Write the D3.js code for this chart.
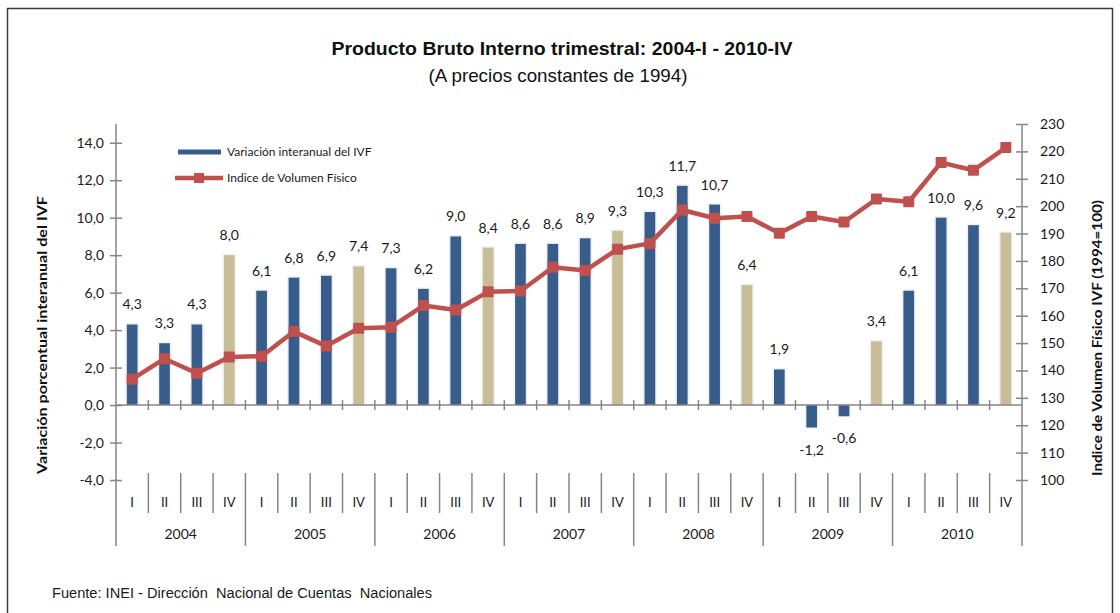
<!DOCTYPE html>
<html>
<head>
<meta charset="utf-8">
<script src="https://cdn.jsdelivr.net/npm/d3@7"></script>
<style>
  body { margin: 0; background: #fff; }
  svg { display: block; }
</style>
</head>
<body>
<div id="container"></div>
<script>
const width = 1120;
const height = 613;

// datos
const years = ["2004", "2005", "2006", "2007", "2008", "2009", "2010"];
const quarters = ["I", "II", "III", "IV"];
const variacion = [
  4.3, 3.3, 4.3, 8.0,
  6.1, 6.8, 6.9, 7.4,
  7.3, 6.2, 9.0, 8.4,
  8.6, 8.6, 8.9, 9.3,
  10.3, 11.7, 10.7, 6.4,
  1.9, -1.2, -0.6, 3.4,
  6.1, 10.0, 9.6, 9.2
];
const indice = [
  136.8, 144.3, 139.0, 144.9,
  145.2, 154.2, 148.9, 155.4,
  155.8, 163.7, 162.1, 168.7,
  169.0, 177.7, 176.5, 184.3,
  186.4, 198.6, 195.6, 196.2,
  190.1, 196.2, 194.2, 202.6,
  201.6, 215.9, 213.1, 221.4
];
const leftTicks = [-4, -2, 0, 2, 4, 6, 8, 10, 12, 14];
const rightTicks = [100, 110, 120, 130, 140, 150, 160, 170, 180, 190, 200, 210, 220, 230];

const keys = [];
years.forEach(y => quarters.forEach(q => keys.push(y + "-" + q)));

const plotLeft = 116;
const plotRight = 1022;
const plotTop = 124;
const plotBottom = 480;
const catBottom = 546;

const axisColor = "#868686";
const blue = "#385D8A";
const tan = "#C7BD96";
const red = "#C0504D";
const labelFont = "Lato, 'Open Sans', sans-serif";
const narrowFont = "'Liberation Sans', Arial, sans-serif";

const coma = d => d3.format(".1f")(d).replace(".", ",").replace("\u2212", "-");

const x = d3.scaleBand().domain(keys).range([plotLeft, plotRight]).paddingInner(0).paddingOuter(0);
const yL = d3.scaleLinear().domain([-4, 15]).range([plotBottom, plotTop]);
const yR = d3.scaleLinear().domain([100, 230]).range([plotBottom, plotTop]);
const barW = x.step() * 0.33;

const svg = d3.create("svg").attr("width", width).attr("height", height);

// marco
svg.append("rect")
  .attr("x", 7.5).attr("y", 8.5)
  .attr("width", 1105).attr("height", 640)
  .attr("fill", "none").attr("stroke", "#3a3a3a").attr("stroke-width", 1.5);

// titulos
svg.append("text")
  .attr("x", 562).attr("y", 55)
  .attr("text-anchor", "middle")
  .attr("font-family", narrowFont).attr("font-weight", "bold").attr("font-size", 19)
  .attr("textLength", 461).attr("lengthAdjust", "spacingAndGlyphs")
  .attr("fill", "#111")
  .text("Producto Bruto Interno trimestral: 2004-I - 2010-IV");
svg.append("text")
  .attr("x", 558).attr("y", 82)
  .attr("text-anchor", "middle")
  .attr("font-family", narrowFont).attr("font-size", 19)
  .attr("textLength", 259).attr("lengthAdjust", "spacingAndGlyphs")
  .attr("fill", "#111")
  .text("(A precios constantes de 1994)");

// barras: halo claro y barra
const bars = svg.append("g");
bars.selectAll("rect.halo")
  .data(variacion)
  .join("rect")
  .attr("class", "halo")
  .attr("x", (d, i) => x(keys[i]) + (x.step() - barW) / 2 - 1.5)
  .attr("y", d => Math.min(yL(d), yL(0)) - 1.5)
  .attr("width", barW + 3)
  .attr("height", d => Math.abs(yL(d) - yL(0)) + 1.5)
  .attr("fill", "#eef1f5");
bars.selectAll("rect.bar")
  .data(variacion)
  .join("rect")
  .attr("class", "bar")
  .attr("x", (d, i) => x(keys[i]) + (x.step() - barW) / 2)
  .attr("y", d => Math.min(yL(d), yL(0)))
  .attr("width", barW)
  .attr("height", d => Math.abs(yL(d) - yL(0)))
  .attr("fill", (d, i) => i % 4 === 3 ? tan : blue);

// etiquetas de barras
svg.append("g").selectAll("text")
  .data(variacion)
  .join("text")
  .attr("x", (d, i) => x(keys[i]) + x.step() / 2)
  .attr("y", d => d >= 0 ? yL(d) - 15 : yL(d) + 27)
  .attr("text-anchor", "middle")
  .attr("font-family", labelFont).attr("font-size", 14)
  .attr("fill", "#1a1a1a")
  .text(d => coma(d));

// eje izquierdo
const gL = svg.append("g")
  .attr("transform", `translate(${plotLeft},0)`)
  .call(d3.axisLeft(yL).tickValues(leftTicks).tickFormat(coma).tickSize(6).tickPadding(8));
gL.select(".domain").remove();
gL.selectAll(".tick line").attr("x1", -6).attr("x2", 6).attr("stroke", axisColor).attr("stroke-width", 1.5);
gL.selectAll(".tick text").attr("font-family", labelFont).attr("font-size", 14).attr("fill", "#1a1a1a").attr("x", -12);
gL.append("line").attr("y1", plotTop).attr("y2", catBottom).attr("stroke", axisColor).attr("stroke-width", 1.5);

// eje derecho
const gR = svg.append("g")
  .attr("transform", `translate(${plotRight},0)`)
  .call(d3.axisRight(yR).tickValues(rightTicks).tickSize(6).tickPadding(8));
gR.select(".domain").remove();
gR.selectAll(".tick line").attr("x1", -6).attr("x2", 6).attr("stroke", axisColor).attr("stroke-width", 1.5);
gR.selectAll(".tick text").attr("font-family", labelFont).attr("font-size", 14).attr("fill", "#1a1a1a").attr("x", 18);
gR.append("line").attr("y1", plotTop).attr("y2", catBottom).attr("stroke", axisColor).attr("stroke-width", 1.5);

// eje horizontal en cero
const gX = svg.append("g").attr("transform", `translate(0,${yL(0)})`);
gX.append("line").attr("x1", plotLeft).attr("x2", plotRight).attr("stroke", axisColor).attr("stroke-width", 1.5);
gX.selectAll("line.tk")
  .data(d3.range(1, keys.length))
  .join("line")
  .attr("class", "tk")
  .attr("x1", i => plotLeft + i * x.step()).attr("x2", i => plotLeft + i * x.step())
  .attr("y1", -5).attr("y2", 5)
  .attr("stroke", axisColor).attr("stroke-width", 1.5);

// eje de categorias (trimestres / años)
const gC = svg.append("g").attr("opacity", 0.999);
gC.selectAll("line")
  .data(d3.range(1, keys.length))
  .join("line")
  .attr("x1", i => plotLeft + i * x.step()).attr("x2", i => plotLeft + i * x.step())
  .attr("y1", 473)
  .attr("y2", i => i % 4 === 0 ? catBottom : 513)
  .attr("stroke", axisColor).attr("stroke-width", 1.5);
gC.selectAll("text.q")
  .data(keys)
  .join("text")
  .attr("class", "q")
  .attr("x", d => x(d) + x.step() / 2)
  .attr("y", 507)
  .attr("text-anchor", "middle")
  .attr("font-family", labelFont).attr("font-size", 13)
  .attr("fill", "#1a1a1a")
  .text(d => d.split("-")[1]);
gC.selectAll("text.y")
  .data(years)
  .join("text")
  .attr("class", "y")
  .attr("x", d => x(d + "-I") + x.step() * 2)
  .attr("y", 539)
  .attr("text-anchor", "middle")
  .attr("font-family", labelFont).attr("font-size", 14)
  .attr("fill", "#1a1a1a")
  .text(d => d);

// linea del indice
const line = d3.line()
  .x((d, i) => x(keys[i]) + x.step() / 2)
  .y(d => yR(d));
svg.append("path")
  .datum(indice)
  .attr("d", line)
  .attr("fill", "none")
  .attr("stroke", red)
  .attr("stroke-width", 4.5)
  .attr("stroke-linejoin", "round");
svg.append("g").selectAll("rect")
  .data(indice)
  .join("rect")
  .attr("x", (d, i) => x(keys[i]) + x.step() / 2 - 5.5)
  .attr("y", d => yR(d) - 5.5)
  .attr("width", 11).attr("height", 11)
  .attr("rx", 1)
  .attr("fill", red);

// titulos de ejes
svg.append("text")
  .attr("transform", "translate(47,335) rotate(-90)")
  .attr("text-anchor", "middle")
  .attr("font-family", labelFont).attr("font-weight", "bold").attr("font-size", 14)
  .attr("textLength", 278).attr("lengthAdjust", "spacingAndGlyphs")
  .attr("fill", "#111")
  .text("Variación porcentual interanual del IVF");
svg.append("text")
  .attr("transform", "translate(1102,338) rotate(-90)")
  .attr("text-anchor", "middle")
  .attr("font-family", labelFont).attr("font-weight", "bold").attr("font-size", 14)
  .attr("textLength", 276).attr("lengthAdjust", "spacingAndGlyphs")
  .attr("fill", "#111")
  .text("Indice de Volumen Físico IVF (1994=100)");

// leyenda
const leg = svg.append("g");
leg.append("line").attr("x1", 178).attr("x2", 221).attr("y1", 152).attr("y2", 152)
  .attr("stroke", blue).attr("stroke-width", 5);
leg.append("text").attr("x", 227).attr("y", 156)
  .attr("font-family", labelFont).attr("font-size", 12).attr("fill", "#1a1a1a")
  .text("Variación interanual del IVF");
leg.append("line").attr("x1", 175).attr("x2", 223).attr("y1", 178).attr("y2", 178)
  .attr("stroke", red).attr("stroke-width", 4.5);
leg.append("rect").attr("x", 194).attr("y", 173).attr("width", 10).attr("height", 10)
  .attr("fill", red);
leg.append("text").attr("x", 227).attr("y", 182)
  .attr("font-family", labelFont).attr("font-size", 12).attr("fill", "#1a1a1a")
  .text("Indice de Volumen Físico");

// fuente
svg.append("text")
  .attr("x", 52).attr("y", 598)
  .attr("font-family", narrowFont).attr("font-size", 14)
  .attr("textLength", 380).attr("lengthAdjust", "spacingAndGlyphs")
  .attr("fill", "#1a1a1a")
  .style("white-space", "pre")
  .text("Fuente: INEI - Dirección  Nacional de Cuentas  Nacionales");

container.append(svg.node());
</script>
</body>
</html>
